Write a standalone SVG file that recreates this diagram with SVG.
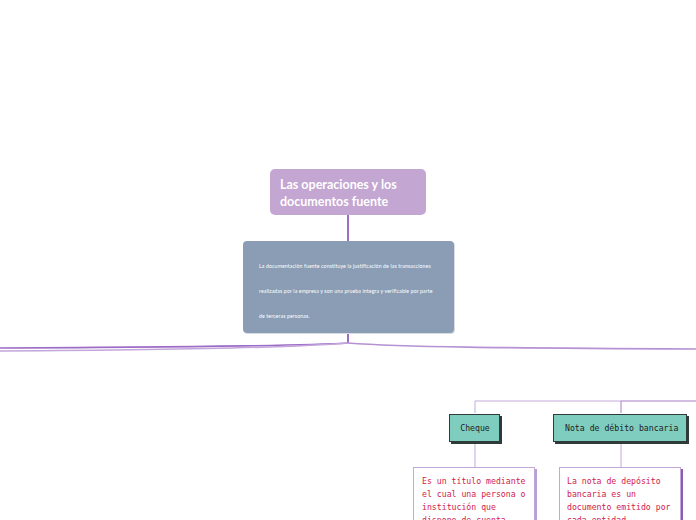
<svg xmlns="http://www.w3.org/2000/svg" width="696" height="520" viewBox="0 0 696 520">
<defs>
<style>
.title{font-family:Lato,"Noto Sans",sans-serif;font-weight:700;font-size:12.5px;fill:#fff}
.desc{font-family:Lato,"Noto Sans",sans-serif;font-size:5.2px;letter-spacing:0.12px;fill:#fff}
.lbl{font-family:"DejaVu Sans Mono","Liberation Mono",monospace;font-size:8.2px;fill:#222}
.body{font-family:"DejaVu Sans Mono","Liberation Mono",monospace;font-size:8.2px;fill:#d2204c}
.teal{fill:#7fcdbf;stroke:#2e3b38;stroke-width:1}
.card{fill:#fff;stroke:#c1a8d6;stroke-width:1}
.conn{fill:none;stroke:#c5a9da;stroke-width:1}
</style>
</defs>
<rect width="696" height="520" fill="#fff"/>
<g id="connectors">
<line x1="348" y1="215" x2="348" y2="241" stroke="#7b3fb0" stroke-width="1.5"/>
<line x1="348" y1="333" x2="348" y2="343" stroke="#7b3fb0" stroke-width="1.5"/>
<path d="M348,343 C300,346 200,347 0,348" fill="none" stroke="#9d6cc6" stroke-width="1.6"/>
<path d="M348,343 C290,348 150,350 0,351" fill="none" stroke="#c3a6dc" stroke-width="1.6"/>
<path d="M348,343 C400,347 500,348 696,349" fill="none" stroke="#b592d4" stroke-width="1.6"/>
<path class="conn" d="M475,413 V401 H621"/>
<path d="M621,413 V401 H696" fill="none" stroke="#a87cc8" stroke-width="1"/>
<line class="conn" x1="475" y1="443" x2="475" y2="467"/>
<line class="conn" x1="621" y1="443" x2="621" y2="467"/>
</g>
<g id="title">
<rect x="270" y="169" width="156" height="46" rx="5" fill="#c3a6d2"/>
<text class="title" x="280" y="189">Las operaciones y los</text>
<text class="title" x="280" y="206">documentos fuente</text>
</g>
<g id="documentacion">
<rect x="244" y="242" width="211" height="92" rx="4" fill="#d9dde3"/>
<rect x="243" y="241" width="211" height="92" rx="4" fill="#8a9db5"/>
<text class="desc" x="259" y="268">La documentación fuente constituye la justificación de las transacciones</text>
<text class="desc" x="259" y="293">realizadas por la empresa y son una prueba íntegra y verificable por parte</text>
<text class="desc" x="259" y="318">de terceras personas.</text>
</g>
<g id="cheque">
<rect x="451" y="416" width="51" height="28" fill="#2e3b38"/>
<rect class="teal" x="449.5" y="414.5" width="50" height="27"/>
<text class="lbl" x="475" y="431" text-anchor="middle">Cheque</text>
</g>
<g id="nota">
<rect x="555" y="416" width="134" height="28" fill="#2e3b38"/>
<rect class="teal" x="553.5" y="414.5" width="133" height="27"/>
<text class="lbl" x="565" y="431">Nota de débito bancaria</text>
</g>
<g id="cheque-desc">
<rect x="415" y="469" width="122" height="60" fill="#b9a0d2"/>
<rect class="card" x="413.5" y="467.5" width="121" height="60"/>
<text class="body" x="422" y="484">Es un título mediante</text>
<text class="body" x="422" y="497">el cual una persona o</text>
<text class="body" x="422" y="510">institución que</text>
<text class="body" x="422" y="523">dispone de cuenta</text>
</g>
<g id="nota-desc">
<rect x="561" y="469" width="122" height="60" fill="#8a5cb4"/>
<rect class="card" x="559.5" y="467.5" width="121" height="60"/>
<text class="body" x="567" y="484">La nota de depósito</text>
<text class="body" x="567" y="497">bancaria es un</text>
<text class="body" x="567" y="510">documento emitido por</text>
<text class="body" x="567" y="523">cada entidad</text>
</g>
</svg>
